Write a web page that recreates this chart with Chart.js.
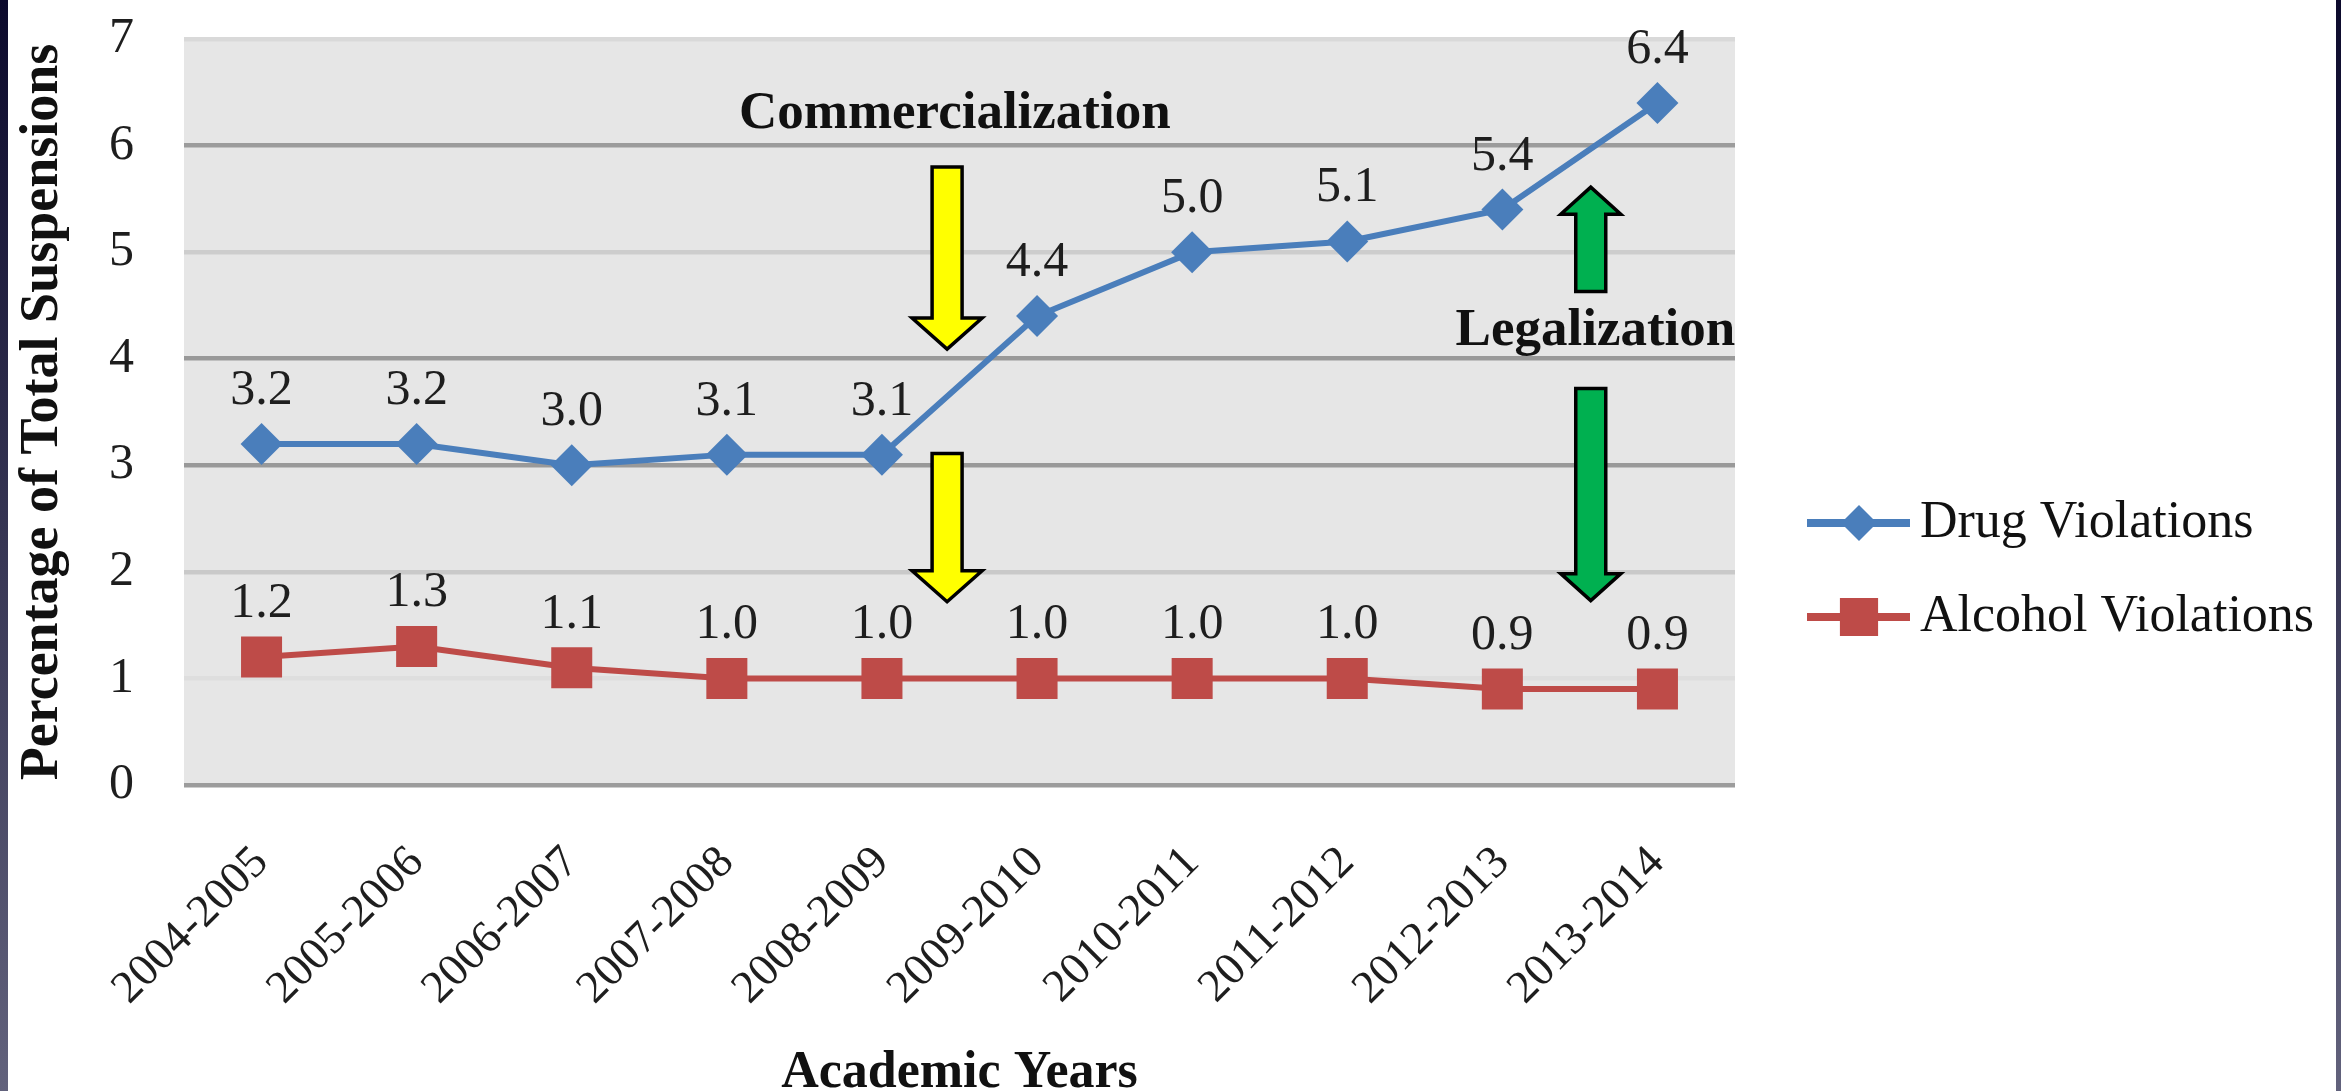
<!DOCTYPE html>
<html>
<head>
<meta charset="utf-8">
<title>Drug and Alcohol Violations</title>
<script src="https://cdn.jsdelivr.net/npm/chart.js@4.4.0/dist/chart.umd.min.js"></script>
<style>
  html, body { margin: 0; padding: 0; background: #fff; }
  #wrap { width: 2341px; height: 1091px; }
</style>
</head>
<body>
<div id="wrap"><canvas id="suspensionChart" width="2341" height="1091"></canvas></div>
<script>
// Chart data
const years = ['2004-2005', '2005-2006', '2006-2007', '2007-2008', '2008-2009',
               '2009-2010', '2010-2011', '2011-2012', '2012-2013', '2013-2014'];
const drugViolations = [3.2, 3.2, 3.0, 3.1, 3.1, 4.4, 5.0, 5.1, 5.4, 6.4];
const alcoholViolations = [1.2, 1.3, 1.1, 1.0, 1.0, 1.0, 1.0, 1.0, 0.9, 0.9];
const yTicks = [0, 1, 2, 3, 4, 5, 6, 7];

// Annotation arrows (x = category index, y = percent)
const arrowX = [4.42, 4.42, 8.57, 8.57];
const arrowFrom = [5.80, 3.11, 4.63, 3.72];
const arrowTo = [4.09, 1.72, 5.61, 1.73];

// Annotation labels
const noteText = ['Commercialization', 'Legalization'];
const noteX = [4.47, 8.60];
const noteY = [6.165, 4.13];

const SERIF = "'Liberation Serif', 'Times New Roman', serif";
const gridShades = { 0: '#9c9c9c', 1: '#dedede', 2: '#c9c9c9', 3: '#999999', 4: '#999999', 5: '#cdcdcd', 6: '#9c9c9c', 7: '#d9d9d9' };

// white slide with dark border + grey plot area
const backdrop = {
    id: 'backdrop',
    beforeDraw(chart) {
        const { ctx, chartArea: a, width, height } = chart;
        ctx.save();
        ctx.fillStyle = '#ffffff';
        ctx.fillRect(0, 0, width, height);
        const g = ctx.createLinearGradient(0, 0, 0, height);
        g.addColorStop(0, '#0c0a2c');
        g.addColorStop(1, '#62627c');
        ctx.fillStyle = g;
        ctx.fillRect(0, 0, 8, height);
        ctx.fillRect(width - 5, 0, 5, height);
        ctx.fillStyle = '#e6e6e6';
        ctx.fillRect(a.left, a.top - 2, a.width, a.height + 2);
        ctx.restore();
    }
};

function drawArrow(ctx, x, y0, y1, shaftW, headW, headH, fill) {
    const dir = y1 > y0 ? 1 : -1;
    const yh = y1 - dir * headH;
    ctx.beginPath();
    ctx.moveTo(x - shaftW / 2, y0);
    ctx.lineTo(x + shaftW / 2, y0);
    ctx.lineTo(x + shaftW / 2, yh);
    ctx.lineTo(x + headW / 2, yh);
    ctx.lineTo(x, y1);
    ctx.lineTo(x - headW / 2, yh);
    ctx.lineTo(x - shaftW / 2, yh);
    ctx.closePath();
    ctx.fillStyle = fill;
    ctx.fill();
    ctx.lineWidth = 3.5;
    ctx.strokeStyle = '#000';
    ctx.lineJoin = 'miter';
    ctx.stroke();
}

// arrows, notes and value labels
const annotations = {
    id: 'annotations',
    afterDatasetsDraw(chart) {
        const { ctx, scales: { x, y } } = chart;
        ctx.save();
        arrowX.forEach((ax, i) => {
            const yellow = i < 2;
            drawArrow(ctx, x.getPixelForValue(ax), y.getPixelForValue(arrowFrom[i]), y.getPixelForValue(arrowTo[i]),
                30, yellow ? 70 : 60, yellow ? 31 : 27, yellow ? '#ffff00' : '#00b050');
        });

        ctx.fillStyle = '#111';
        ctx.textAlign = 'center';
        ctx.textBaseline = 'alphabetic';
        ctx.font = 'bold 53px ' + SERIF;
        noteText.forEach((t, i) => {
            ctx.fillText(t, x.getPixelForValue(noteX[i]), y.getPixelForValue(noteY[i]));
        });

        ctx.font = '50px ' + SERIF;
        ctx.fillStyle = '#1e1e1e';
        chart.data.datasets.forEach((ds, di) => {
            chart.getDatasetMeta(di).data.forEach((pt, i) => {
                ctx.fillText(ds.data[i].toFixed(1), pt.x, pt.y - 40);
            });
        });
        ctx.restore();
    }
};

// legend on the right with line + marker samples
const sideLegend = {
    id: 'sideLegend',
    afterDraw(chart) {
        const { ctx, chartArea: a } = chart;
        const x0 = a.right + 72;
        const rows = [a.top + 484, a.top + 578];
        ctx.save();
        chart.data.datasets.forEach((ds, i) => {
            const yy = rows[i];
            ctx.strokeStyle = ds.borderColor;
            ctx.lineWidth = 8;
            ctx.beginPath();
            ctx.moveTo(x0, yy);
            ctx.lineTo(x0 + 103, yy);
            ctx.stroke();
            ctx.fillStyle = ds.backgroundColor;
            ctx.strokeStyle = ds.backgroundColor;
            Chart.helpers.drawPoint(ctx, {
                pointStyle: ds.pointStyle,
                radius: i === 0 ? 18 : 27,
                rotation: 0,
                borderWidth: 0
            }, x0 + 52, yy);
            ctx.fillStyle = '#111';
            ctx.font = '52px ' + SERIF;
            ctx.textAlign = 'left';
            ctx.textBaseline = 'alphabetic';
            ctx.fillText(ds.label, x0 + 113, yy + 14);
        });
        ctx.restore();
    }
};

const ctx = document.getElementById('suspensionChart').getContext('2d');
const chart = new Chart(ctx, {
    type: 'line',
    data: {
        labels: years,
        datasets: [{
            label: 'Drug Violations',
            data: drugViolations,
            borderColor: '#4a7ebb',
            backgroundColor: '#4a7ebb',
            borderWidth: 6,
            pointStyle: 'rectRot',
            pointRadius: 21,
            pointBorderWidth: 0,
            tension: 0,
            clip: false
        }, {
            label: 'Alcohol Violations',
            data: alcoholViolations,
            borderColor: '#be4b48',
            backgroundColor: '#be4b48',
            borderWidth: 6,
            pointStyle: 'rect',
            pointRadius: 29,
            pointBorderWidth: 0,
            tension: 0,
            clip: false
        }]
    },
    options: {
        responsive: false,
        animation: false,
        events: [],
        layout: { autoPadding: false, padding: { left: 8, right: 606, top: 39, bottom: 0 } },
        plugins: {
            legend: { display: false },
            tooltip: { enabled: false }
        },
        scales: {
            x: {
                offset: true,
                grid: { display: false },
                border: { display: false },
                ticks: {
                    autoSkip: false,
                    minRotation: 45,
                    maxRotation: 45,
                    padding: 43,
                    color: '#1e1e1e',
                    font: { family: SERIF, size: 46 }
                },
                title: {
                    display: true,
                    text: 'Academic Years',
                    color: '#111',
                    font: { family: SERIF, size: 52, weight: 'bold', lineHeight: 1 },
                    padding: { top: 0, bottom: -9 }
                },
                afterFit(scale) { scale.height = 306; }
            },
            y: {
                min: 0,
                max: 7,
                afterBuildTicks(scale) { scale.ticks = yTicks.map(v => ({ value: v })); },
                grid: {
                    color: c => gridShades[c.tick.value] || '#999',
                    lineWidth: 4.5,
                    drawTicks: true,
                    tickLength: 47,
                    tickColor: 'rgba(0,0,0,0)'
                },
                border: { display: false },
                ticks: {
                    padding: 3,
                    color: '#1e1e1e',
                    font: { family: SERIF, size: 50 }
                },
                title: {
                    display: true,
                    text: 'Percentage of Total Suspensions',
                    color: '#111',
                    font: { family: SERIF, size: 54, weight: 'bold', lineHeight: 1 },
                    padding: { top: 8, bottom: 0 }
                },
                afterFit(scale) { scale.width = 176; }
            }
        }
    },
    plugins: [backdrop, annotations, sideLegend]
});
</script>
</body>
</html>
